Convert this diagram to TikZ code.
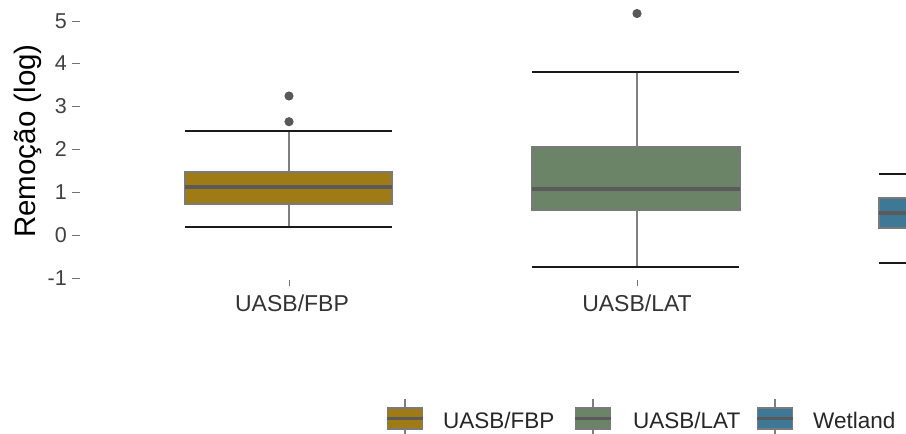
\documentclass[tikz,border=0pt]{standalone}
\usepackage{fontspec}
\setmainfont{Liberation Sans}
\definecolor{cfbp}{HTML}{9E7B14}
\definecolor{clat}{HTML}{6B8468}
\definecolor{cwet}{HTML}{3E7897}
\definecolor{cmed}{HTML}{5A5A5A}
\definecolor{cbord}{HTML}{7A7A7A}
\definecolor{cwhisk}{HTML}{7F7F7F}
\definecolor{ctick}{HTML}{4D4D4D}
\definecolor{cpt}{HTML}{595959}
\tikzset{
  boxbody/.style={draw=cbord, line width=1.5pt},
  medline/.style={draw=cmed, line width=3.2pt},
  whisk/.style={draw=cwhisk, line width=1.8pt},
  capline/.style={draw=black!90, line width=2pt},
  outpt/.style={fill=cpt},
  ticklab/.style={font=\fontsize{21.5}{24}\selectfont, text=black!75, anchor=east, inner sep=0pt},
  axtick/.style={draw=ctick!80, line width=1pt},
  xlab/.style={font=\fontsize{23}{26}\selectfont, text=black!80, anchor=base, inner sep=0pt},
  leglab/.style={font=\fontsize{22.5}{26}\selectfont, text=black!85, anchor=base west, inner sep=0pt},
}
\begin{document}
\begin{tikzpicture}[x=1pt,y=-1pt]
\useasboundingbox (0,0) rectangle (906,434);
\clip (0,0) rectangle (906,434);
% y axis
\foreach \v/\yy in {5/21,4/63,3/106,2/149,1/192,0/235,-1/278}{
  \draw[axtick] (72,\yy) -- (80,\yy);
  \node[ticklab] (t\v) at (67,\yy) {\v};
}
\node[rotate=90, anchor=base, inner sep=0pt, font=\fontsize{29.5}{32}\selectfont] (ytitle) at (35,141) {Remoção (log)};
% x ticks
\draw[axtick] (289,280) -- (289,286);
\draw[axtick] (637,280) -- (637,286);
\node[xlab] (x1) at (292,311.5) {UASB/FBP};
\node[xlab] (x2) at (637,311.5) {UASB/LAT};
% Box 1 UASB/FBP
\draw[whisk] (289,131) -- (289,172);
\draw[whisk] (289,204) -- (289,227);
\draw[capline] (185,131) -- (392,131);
\draw[capline] (185,227) -- (392,227);
\filldraw[boxbody, fill=cfbp] (185,172) rectangle (392,204);
\draw[medline] (185,187) -- (392,187);
\fill[outpt] (289,121.7) circle (4.6);
\fill[outpt] (289,96) circle (4.6);
% Box 2 UASB/LAT
\draw[whisk] (637,72) -- (637,147);
\draw[whisk] (637,210) -- (637,266.7);
\draw[capline] (532,72) -- (739,72);
\draw[capline] (532,266.7) -- (739,266.7);
\filldraw[boxbody, fill=clat] (532,147) rectangle (740,210);
\draw[medline] (532,189) -- (740,189);
\fill[outpt] (637,13.5) circle (4.6);
% Box 3 Wetland (clipped)
\draw[capline] (879,174) -- (1090,174);
\draw[capline] (879,262.7) -- (1090,262.7);
\filldraw[boxbody, fill=cwet] (879,198) rectangle (1090,228);
\draw[medline] (879,213) -- (1090,213);
% Legend
\foreach \kx/\col/\lab/\tx/\nm in {405/cfbp/UASB\slash FBP/443/l1, 593/clat/UASB\slash LAT/633/l2, 775/cwet/Wetland/813/l3}{
  \draw[whisk, line width=1.5pt] (\kx,399) -- (\kx,434);
  \filldraw[boxbody, fill=\col] (\kx-17.7,408) rectangle (\kx+17.7,429);
  \draw[medline, line width=2.5pt] (\kx-17.7,418.5) -- (\kx+17.7,418.5);
  \node[leglab] (\nm) at (\tx,428.3) {\lab};
}
\end{tikzpicture}
\end{document}
